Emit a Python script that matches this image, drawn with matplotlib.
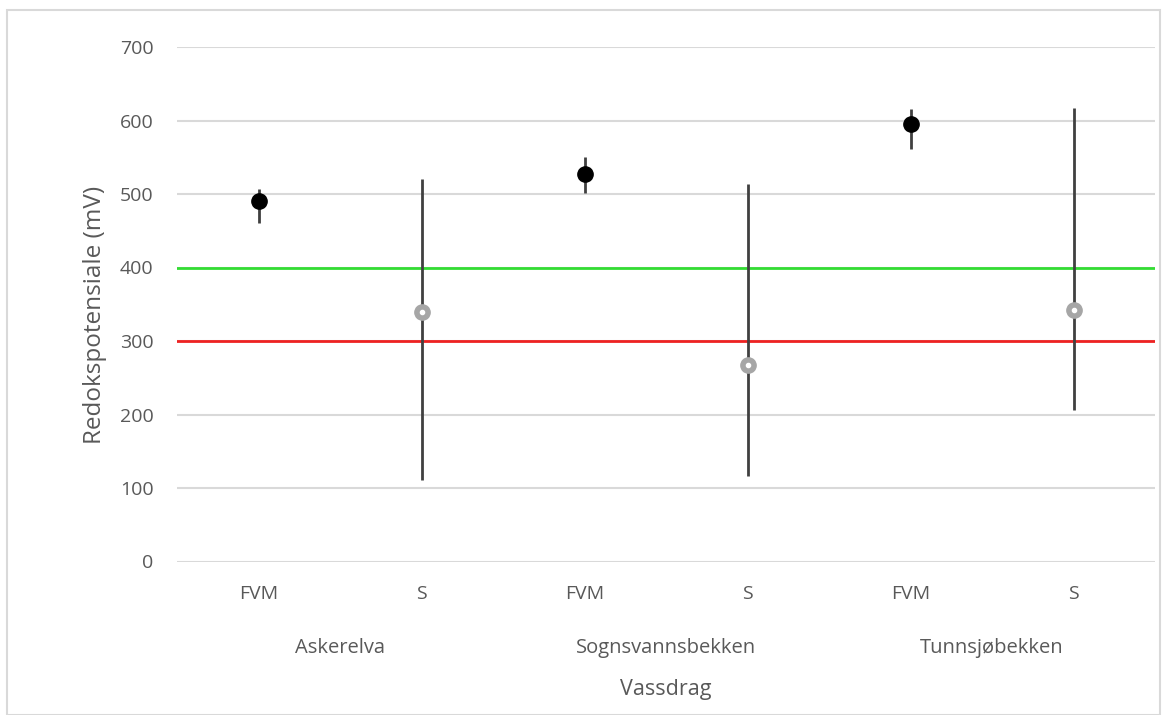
import matplotlib
matplotlib.use("Agg")
import matplotlib.pyplot as plt
from matplotlib.patches import Rectangle

groups = ["Askerelva", "Sognsvannsbekken", "Tunnsjøbekken"]
sub_labels = ["FVM", "S", "FVM", "S", "FVM", "S"]
mean_vals = [491, 340, 527, 267, 595, 342]
upper_vals = [507, 520, 551, 514, 616, 617]
lower_vals = [461, 111, 501, 116, 561, 206]
green_limit = 400
red_limit = 300
y_ticks = [0, 100, 200, 300, 400, 500, 600, 700]

W, H = 1171, 715
fig = plt.figure(figsize=(W / 100, H / 100), dpi=100)
fig.patch.set_facecolor("white")
fig.add_artist(Rectangle((7 / W, 0), (1160 - 7) / W, (H - 10) / H, transform=fig.transFigure,
                         fill=False, edgecolor="#d9d9d9", linewidth=1.5))

FONT = "Open Sans"
TXT = "#595959"
left, right, top, bottom = 177, 1155, 47, 561.5
ax = fig.add_axes([left / W, 1 - bottom / H, (right - left) / W, (bottom - top) / H])
ax.set_xlim(-0.5, len(sub_labels) - 0.5)
ax.set_ylim(0, 700)
for s in ax.spines.values():
    s.set_visible(False)
ax.set_yticks(y_ticks)
ax.grid(axis="y", color="#d9d9d9", linewidth=1.5)
ax.set_axisbelow(True)
ax.tick_params(axis="both", length=0, labelsize=14, labelcolor=TXT)
ax.tick_params(axis="y", pad=17)
ax.set_yticklabels([str(v) for v in y_ticks], fontfamily=FONT)
ax.set_xticks(range(len(sub_labels)))
ax.set_xticklabels(sub_labels, fontfamily=FONT)
ax.tick_params(axis="x", pad=17)

ax.axhline(green_limit, color="#33dd33", linewidth=2, zorder=2)
ax.axhline(red_limit, color="#ee2222", linewidth=2, zorder=2)

for i, (m, lo, hi) in enumerate(zip(mean_vals, lower_vals, upper_vals)):
    ax.vlines(i, lo, hi, color="#404040", linewidth=2, zorder=3)
    if sub_labels[i] == "FVM":
        ax.plot(i, m, "o", color="black", markersize=11, zorder=4)
    else:
        ax.plot(i, m, "o", markerfacecolor="#a6a6a6", markeredgecolor="#a6a6a6", markersize=11, zorder=4)
        ax.plot(i, m, "o", markerfacecolor="white", markeredgecolor="white", markersize=3, zorder=5)

for g, name in enumerate(groups):
    ax.text(2 * g + 0.5, (1 - 648 / H - (1 - bottom / H)) / ((bottom - top) / H), name,
            transform=ax.get_xaxis_transform(), ha="center", va="center",
            fontsize=14.5, color=TXT, fontfamily=FONT)

fig.text((left + right) / 2 / W, 1 - 690 / H, "Vassdrag", ha="center", va="center",
         fontsize=15.5, color=TXT, fontfamily=FONT)
fig.text(95 / W, 1 - 315 / H, "Redokspotensiale (mV)", ha="center", va="center", rotation=90,
         fontsize=17.5, color=TXT, fontfamily=FONT)

fig.savefig("out.png", dpi=100)
